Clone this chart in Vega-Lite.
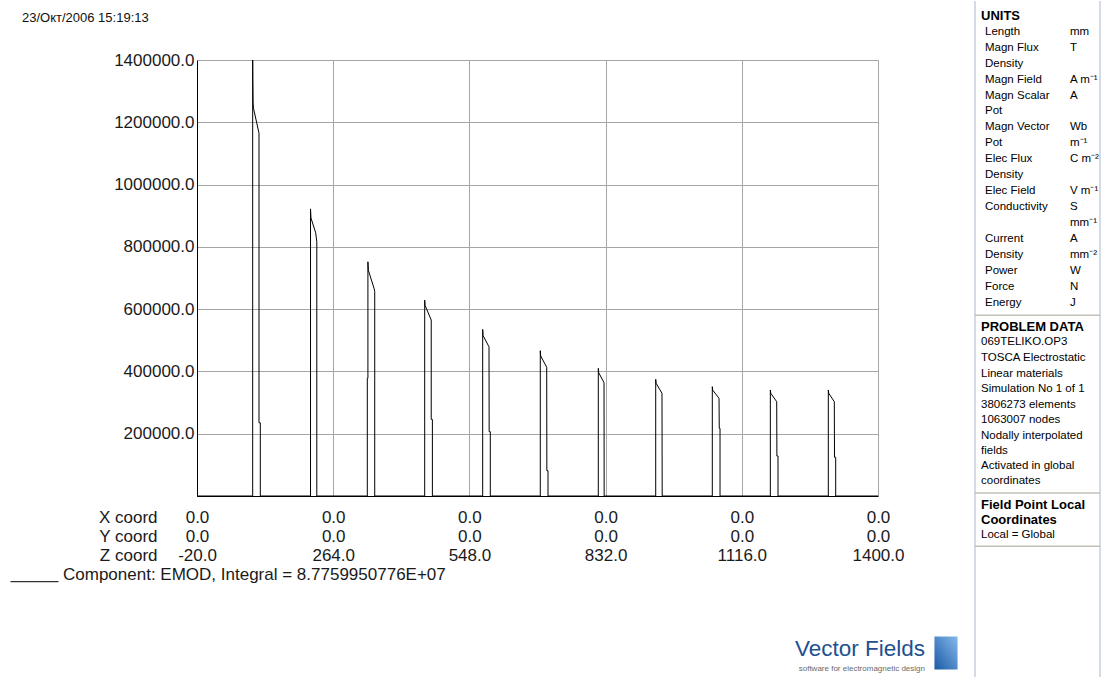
{
  "$schema": "https://vega.github.io/schema/vega-lite/v6.json",
  "background": "white",
  "padding": {"left": 10, "top": 0, "right": 0, "bottom": 0},
  "autosize": {"type": "pad"},
  "config": {
    "font": "Liberation Sans",
    "view": {"stroke": null}
  },
  "spacing": 16,
  "resolve": {"scale": {"color": "independent"}, "legend": {"color": "independent"}},
  "hconcat": [
    {
      "spacing": 46,
      "resolve": {"scale": {"color": "independent"}, "legend": {"color": "independent"}},
      "vconcat": [
        {
          "width": 681,
          "height": 436,
          "title": {
            "text": ["", "23/Окт/2006 15:19:13"],
            "anchor": "start",
            "frame": "group",
            "dx": -175,
            "offset": 26,
            "fontSize": 13,
            "fontWeight": "normal",
            "lineHeight": 12,
            "color": "#111111"
          },
          "data": {
            "values": [
              {"z": -20, "e": 0},
              {"z": 96.1, "e": 0}, {"z": 96.1, "e": 1400000}, {"z": 96.4, "e": 1335000}, {"z": 96.9, "e": 1262000}, {"z": 97.8, "e": 1245000}, {"z": 109.3, "e": 1165000}, {"z": 109.3, "e": 235000}, {"z": 112.0, "e": 235000}, {"z": 112.0, "e": 0},
              {"z": 216.7, "e": 0}, {"z": 216.7, "e": 922000}, {"z": 217.6, "e": 893000}, {"z": 227.5, "e": 845000}, {"z": 229.8, "e": 816000}, {"z": 229.8, "e": 0},
              {"z": 335.1, "e": 0}, {"z": 335.1, "e": 378000}, {"z": 336.4, "e": 378000}, {"z": 336.4, "e": 752000}, {"z": 337.3, "e": 725000}, {"z": 349.5, "e": 665000}, {"z": 350.6, "e": 656000}, {"z": 350.6, "e": 0},
              {"z": 454.8, "e": 0}, {"z": 454.8, "e": 629000}, {"z": 455.6, "e": 612000}, {"z": 468.4, "e": 565000}, {"z": 468.4, "e": 246000}, {"z": 470.8, "e": 246000}, {"z": 470.8, "e": 0},
              {"z": 575.7, "e": 0}, {"z": 575.7, "e": 535000}, {"z": 576.5, "e": 515000}, {"z": 588.9, "e": 479000}, {"z": 589.2, "e": 206500}, {"z": 591.6, "e": 206500}, {"z": 591.6, "e": 0},
              {"z": 695.8, "e": 0}, {"z": 695.8, "e": 466600}, {"z": 696.6, "e": 450000}, {"z": 709.2, "e": 413300}, {"z": 709.5, "e": 81200}, {"z": 711.9, "e": 81200}, {"z": 711.9, "e": 0},
              {"z": 816.8, "e": 0}, {"z": 816.8, "e": 410000}, {"z": 817.6, "e": 396000}, {"z": 828.7, "e": 363800}, {"z": 829.0, "e": 0},
              {"z": 936.5, "e": 0}, {"z": 936.5, "e": 374700}, {"z": 937.3, "e": 362000}, {"z": 949.6, "e": 329800}, {"z": 950.0, "e": 0},
              {"z": 1054.5, "e": 0}, {"z": 1054.5, "e": 351000}, {"z": 1055.3, "e": 340000}, {"z": 1068.5, "e": 313700}, {"z": 1069.0, "e": 217400}, {"z": 1070.6, "e": 217400}, {"z": 1070.6, "e": 0},
              {"z": 1175.5, "e": 0}, {"z": 1175.5, "e": 340400}, {"z": 1176.3, "e": 330000}, {"z": 1188.8, "e": 302800}, {"z": 1189.2, "e": 128400}, {"z": 1191.5, "e": 128400}, {"z": 1191.5, "e": 0},
              {"z": 1296.4, "e": 0}, {"z": 1296.4, "e": 340400}, {"z": 1297.2, "e": 330000}, {"z": 1308.9, "e": 302800}, {"z": 1309.3, "e": 124300}, {"z": 1311.8, "e": 124300}, {"z": 1311.8, "e": 0},
              {"z": 1400, "e": 0}
            ]
          },
          "mark": {"type": "line", "strokeWidth": 1, "interpolate": "linear"},
          "encoding": {
            "x": {
              "field": "z",
              "type": "quantitative",
              "scale": {"domain": [-20, 1400], "nice": false, "zero": false},
              "axis": {
                "values": [-20, 264, 548, 832, 1116, 1400],
                "labelExpr": "['0.0', '0.0', datum.value + '.0']",
                "labelFlush": false,
                "labelOverlap": false,
                "labelFontSize": 17,
                "labelColor": "#1a1a1a",
                "labelLineHeight": 19,
                "labelBaseline": "top",
                "labelPadding": 13,
                "ticks": false,
                "tickSize": 0,
                "domainColor": "black",
                "domainWidth": 1,
                "grid": true,
                "gridColor": "#a6a6a6",
                "gridWidth": 1,
                "title": ["X coord", "Y coord", "Z coord"],
                "titleFontSize": 17,
                "titleFontWeight": "normal",
                "titleColor": "#1a1a1a",
                "titleAlign": "right",
                "titleBaseline": "top",
                "titleX": -40,
                "titleY": 13,
                "titleLineHeight": 19
              }
            },
            "y": {
              "field": "e",
              "type": "quantitative",
              "scale": {"domain": [0, 1400000], "nice": false},
              "axis": {
                "values": [0, 200000, 400000, 600000, 800000, 1000000, 1200000, 1400000],
                "labelExpr": "datum.value == 0 ? '' : datum.value + '.0'",
                "labelFlush": false,
                "labelOverlap": false,
                "labelFontSize": 17,
                "labelColor": "#1a1a1a",
                "labelPadding": 3,
                "ticks": false,
                "tickSize": 0,
                "domainColor": "black",
                "domainWidth": 1,
                "grid": true,
                "gridColor": "#a6a6a6",
                "gridWidth": 1,
                "title": null
              }
            },
            "color": {
              "datum": "Component: EMOD, Integral = 8.7759950776E+07",
              "type": "nominal",
              "scale": {"range": ["black"]},
              "legend": {
                "orient": "none",
                "legendX": -187,
                "legendY": 490,
                "title": null,
                "padding": 0,
                "symbolType": "M-1,0.3H1",
                "symbolSize": 2304,
                "symbolStrokeWidth": 1,
                "symbolStrokeColor": "black",
                "labelFontSize": 17,
                "labelColor": "#1a1a1a",
                "labelOffset": 4,
                "labelLimit": 1000
              }
            },
            "order": {"value": null}
          }
        },
        {
          "width": 761,
          "height": 44,
          "data": {
            "values": [
              {"item": "wordmark", "text": "Vector Fields"},
              {"item": "tagline", "text": "software for electromagnetic design"},
              {"item": "icon", "text": ""}
            ]
          },
          "layer": [
            {
              "transform": [{"filter": "datum.item == 'wordmark'"}],
              "mark": {"type": "text", "align": "right", "baseline": "alphabetic", "fontSize": 22.5, "color": "#22508f", "dx": -33, "dy": -18},
              "encoding": {"x": {"value": "width"}, "y": {"value": "height"}, "text": {"field": "text"}}
            },
            {
              "transform": [{"filter": "datum.item == 'tagline'"}],
              "mark": {"type": "text", "align": "right", "baseline": "alphabetic", "fontSize": 8, "color": "#6b6b6b", "dx": -33, "dy": -3},
              "encoding": {"x": {"value": "width"}, "y": {"value": "height"}, "text": {"field": "text"}}
            },
            {
              "transform": [{"filter": "datum.item == 'icon'"}],
              "mark": {
                "type": "point",
                "shape": "M-0.7,-1H0.7V1H-0.7Z",
                "size": 1089,
                "filled": true,
                "opacity": 1,
                "strokeWidth": 0,
                "xOffset": -12,
                "yOffset": -21,
                "fill": {
                  "gradient": "linear",
                  "x1": 0, "y1": 1, "x2": 1, "y2": 0,
                  "stops": [{"offset": 0, "color": "#1b5aa8"}, {"offset": 1, "color": "#86b9ea"}]
                }
              },
              "encoding": {"x": {"value": "width"}, "y": {"value": "height"}}
            }
          ]
        }
      ]
    },
    {
      "width": 125,
      "height": 617,
      "view": {"stroke": null, "fill": null},
      "data": {
        "values": [
          {"kind": "edge", "line": -0.93, "line_end": 41.5, "col": "left", "text": ""},
          {"kind": "edge", "line": -0.93, "line_end": 41.5, "col": "right", "text": ""},
          {"kind": "head", "line": 0, "col": "name", "text": "UNITS"},
          {"kind": "row", "line": 1, "col": "name", "text": "Length"},
          {"kind": "row", "line": 1, "col": "unit", "text": "mm"},
          {"kind": "row", "line": 2, "col": "name", "text": "Magn Flux"},
          {"kind": "row", "line": 2, "col": "unit", "text": "T"},
          {"kind": "row", "line": 3, "col": "name", "text": "Density"},
          {"kind": "row", "line": 4, "col": "name", "text": "Magn Field"},
          {"kind": "row", "line": 4, "col": "unit", "text": "A m⁻¹"},
          {"kind": "row", "line": 5, "col": "name", "text": "Magn Scalar"},
          {"kind": "row", "line": 5, "col": "unit", "text": "A"},
          {"kind": "row", "line": 6, "col": "name", "text": "Pot"},
          {"kind": "row", "line": 7, "col": "name", "text": "Magn Vector"},
          {"kind": "row", "line": 7, "col": "unit", "text": "Wb"},
          {"kind": "row", "line": 8, "col": "name", "text": "Pot"},
          {"kind": "row", "line": 8, "col": "unit", "text": "m⁻¹"},
          {"kind": "row", "line": 9, "col": "name", "text": "Elec Flux"},
          {"kind": "row", "line": 9, "col": "unit", "text": "C m⁻²"},
          {"kind": "row", "line": 10, "col": "name", "text": "Density"},
          {"kind": "row", "line": 11, "col": "name", "text": "Elec Field"},
          {"kind": "row", "line": 11, "col": "unit", "text": "V m⁻¹"},
          {"kind": "row", "line": 12, "col": "name", "text": "Conductivity"},
          {"kind": "row", "line": 12, "col": "unit", "text": "S"},
          {"kind": "row", "line": 13, "col": "unit", "text": "mm⁻¹"},
          {"kind": "row", "line": 14, "col": "name", "text": "Current"},
          {"kind": "row", "line": 14, "col": "unit", "text": "A"},
          {"kind": "row", "line": 15, "col": "name", "text": "Density"},
          {"kind": "row", "line": 15, "col": "unit", "text": "mm⁻²"},
          {"kind": "row", "line": 16, "col": "name", "text": "Power"},
          {"kind": "row", "line": 16, "col": "unit", "text": "W"},
          {"kind": "row", "line": 17, "col": "name", "text": "Force"},
          {"kind": "row", "line": 17, "col": "unit", "text": "N"},
          {"kind": "row", "line": 18, "col": "name", "text": "Energy"},
          {"kind": "row", "line": 18, "col": "unit", "text": "J"},
          {"kind": "sep", "line": 18.8, "col": "name", "text": ""},
          {"kind": "head", "line": 19.5, "col": "name", "text": "PROBLEM DATA"},
          {"kind": "info", "line": 20.5, "col": "name", "text": "069TELIKO.OP3"},
          {"kind": "info", "line": 21.45, "col": "name", "text": "TOSCA Electrostatic"},
          {"kind": "info", "line": 22.45, "col": "name", "text": "Linear materials"},
          {"kind": "info", "line": 23.4, "col": "name", "text": "Simulation No 1 of 1"},
          {"kind": "info", "line": 24.4, "col": "name", "text": "3806273 elements"},
          {"kind": "info", "line": 25.35, "col": "name", "text": "1063007 nodes"},
          {"kind": "info", "line": 26.35, "col": "name", "text": "Nodally interpolated"},
          {"kind": "info", "line": 27.3, "col": "name", "text": "fields"},
          {"kind": "info", "line": 28.25, "col": "name", "text": "Activated in global"},
          {"kind": "info", "line": 29.2, "col": "name", "text": "coordinates"},
          {"kind": "sep", "line": 29.95, "col": "name", "text": ""},
          {"kind": "head", "line": 30.7, "col": "name", "text": "Field Point Local"},
          {"kind": "head", "line": 31.65, "col": "name", "text": "Coordinates"},
          {"kind": "info", "line": 32.6, "col": "name", "text": "Local = Global"},
          {"kind": "sep", "line": 33.3, "col": "name", "text": ""}
        ]
      },
      "encoding": {
        "y": {
          "field": "line",
          "type": "quantitative",
          "scale": {"domain": [2.77, 41.5], "reverse": true, "nice": false, "zero": false},
          "axis": null
        }
      },
      "layer": [
        {
          "transform": [{"filter": "datum.kind == 'sep'"}],
          "mark": {"type": "rule", "color": "#c4c0b8", "strokeWidth": 1.5}
        },
        {
          "transform": [{"filter": "datum.kind == 'edge' && datum.col == 'left'"}],
          "mark": {"type": "rule", "color": "#a9b7cc", "strokeWidth": 1},
          "encoding": {"x": {"value": 0}, "y2": {"field": "line_end"}}
        },
        {
          "transform": [{"filter": "datum.kind == 'edge' && datum.col == 'right'"}],
          "mark": {"type": "rule", "color": "#a9b7cc", "strokeWidth": 1},
          "encoding": {"x": {"value": "width"}, "y2": {"field": "line_end"}}
        },
        {
          "transform": [{"filter": "datum.kind == 'head'"}],
          "mark": {"type": "text", "align": "left", "baseline": "middle", "fontSize": 13, "fontWeight": "bold", "color": "#000000", "dx": -4},
          "encoding": {
            "x": {"field": "col", "type": "nominal", "scale": {"type": "point", "domain": ["name", "unit"], "range": [10, 95], "padding": 0}, "axis": null},
            "text": {"field": "text"}
          }
        },
        {
          "transform": [{"filter": "datum.kind == 'info'"}],
          "mark": {"type": "text", "align": "left", "baseline": "middle", "fontSize": 11.5, "color": "#000000", "dx": -4},
          "encoding": {
            "x": {"field": "col", "type": "nominal", "scale": {"type": "point", "domain": ["name", "unit"], "range": [10, 95], "padding": 0}, "axis": null},
            "text": {"field": "text"}
          }
        },
        {
          "transform": [{"filter": "datum.kind == 'row'"}],
          "mark": {"type": "text", "align": "left", "baseline": "middle", "fontSize": 11.5, "color": "#000000"},
          "encoding": {
            "x": {"field": "col", "type": "nominal", "scale": {"type": "point", "domain": ["name", "unit"], "range": [10, 95], "padding": 0}, "axis": null},
            "text": {"field": "text"}
          }
        }
      ]
    }
  ]
}
